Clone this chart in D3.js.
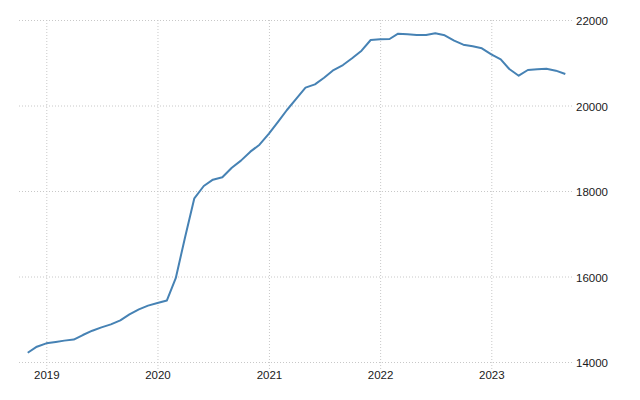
<!DOCTYPE html>
<html>
<head>
<meta charset="utf-8">
<script src="https://cdn.jsdelivr.net/npm/d3@7"></script>
<style>
  body { margin: 0; background: #fff; }
  svg { display: block; }
  .tick text { font-family: "Liberation Sans", Arial, sans-serif; font-size: 11.5px; fill: #1a1a1a; }
</style>
</head>
<body>
<svg width="640" height="400"></svg>
<script>
// monthly values, Nov 2018 .. Sep 2023
var startMonth = [2018, 10];
var values = [
  14217, 14358, // 2018
  14437, 14470, 14500, 14525, 14631, 14732, 14811, 14881, 14975, 15115, 15232, 15318, // 2019
  15380, 15440, 15960, 16930, 17830, 18117, 18265, 18320, 18545, 18710, 18920, 19083, // 2020
  19340, 19630, 19895, 20160, 20417, 20495, 20650, 20830, 20947, 21104, 21282, 21532, // 2021
  21548, 21556, 21680, 21665, 21650, 21650, 21688, 21642, 21516, 21423, 21384, 21337, // 2022
  21197, 21080, 20854, 20697, 20830, 20846, 20862, 20815, 20737 // 2023
];
var yTicks = [14000, 16000, 18000, 20000, 22000];
var xTicks = [2019, 2020, 2021, 2022, 2023];

var data = values.map(function (v, i) {
  return { date: new Date(startMonth[0], startMonth[1] + i, 1), value: v };
});

var svg = d3.select("svg");
var plotLeft = 19, plotRight = 572, plotTop = 20, plotBottom = 362;

var x = d3.scaleTime()
  .domain([new Date(2019, 0, 1), new Date(2023, 0, 1)])
  .range([46.3, 491.3]);

var y = d3.scaleLinear()
  .domain([14000, 22000])
  .range([plotBottom, plotTop]);

// horizontal grid + right axis labels
var yAxis = svg.append("g")
  .attr("transform", "translate(" + plotRight + ",0)")
  .call(d3.axisRight(y).tickValues(yTicks).tickSize(0).tickPadding(4).tickFormat(d3.format("d")));
yAxis.select(".domain").remove();
yAxis.selectAll(".tick text").attr("dy", "0.42em");
yAxis.selectAll(".tick line")
  .attr("x1", plotLeft - plotRight)
  .attr("x2", 0)
  .attr("stroke", "#c8c8c8")
  .attr("stroke-dasharray", "1,2");

// vertical grid + year labels
var xAxis = svg.append("g")
  .attr("transform", "translate(0," + plotBottom + ")")
  .call(d3.axisBottom(x)
    .tickValues(xTicks.map(function (yr) { return new Date(yr, 0, 1); }))
    .tickSize(0)
    .tickPadding(9)
    .tickFormat(d3.timeFormat("%Y")));
xAxis.select(".domain").remove();
xAxis.selectAll(".tick line")
  .attr("y1", plotTop - plotBottom)
  .attr("y2", 8)
  .attr("stroke", "#c8c8c8")
  .attr("stroke-dasharray", "1,2");

var line = d3.line()
  .x(function (d) { return x(d.date); })
  .y(function (d) { return y(d.value); });

svg.append("path")
  .datum(data)
  .attr("fill", "none")
  .attr("stroke", "#4682b4")
  .attr("stroke-width", 2)
  .attr("stroke-linejoin", "round")
  .attr("d", line);
</script>
</body>
</html>
